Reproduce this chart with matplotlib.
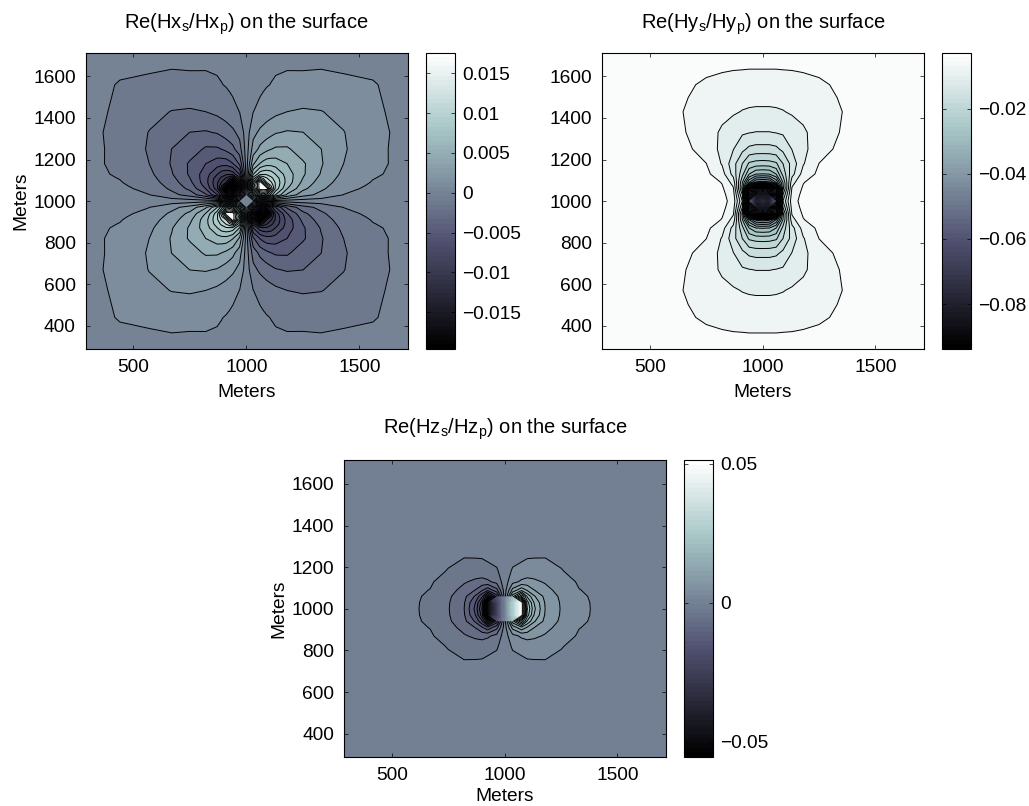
import numpy as np
import matplotlib
matplotlib.use("Agg")
import matplotlib.pyplot as plt
from matplotlib.cm import ScalarMappable
from matplotlib.colors import Normalize

plt.rcParams['font.family'] = ['Liberation Sans', 'DejaVu Sans']
plt.rcParams['mathtext.fontset'] = 'custom'
plt.rcParams['mathtext.rm'] = 'Liberation Sans'
plt.rcParams['mathtext.it'] = 'Liberation Sans'
plt.rcParams['mathtext.default'] = 'regular'
plt.rcParams['font.size'] = 13.8

W, H = 1029.0, 806.0

# distance from the centre (1000 m) of the rows and columns
centre = 1000.0
nodes = [0, 30, 60, 90, 130, 180, 250, 330, 430, 560, 714]
hx_nodes = [0, 30, 60, 75, 90, 110, 130, 180, 250, 330, 430, 560, 714]
hz_cols = [0, 35, 75, 100, 130, 180, 250, 330, 430, 560, 714]

# one quadrant of each field, in units of 1e-3, rows = y offset, cols = x offset
hx_quad = [
    [0, 0, 0, 0, 0, 0, 0, 0, 0, 0, 0, 0, 0],
    [0, 6, 11, 12, 11, 8.5, 6.7, 4.1, 2.35, 1.48, 0.6, 0.2, 0.074],
    [0, 11, 22, 23, 19, 12.5, 8.7, 5.6, 3.4, 2.1, 0.9, 0.38, 0.147],
    [0, 12, 23, 18.5, 14.5, 11.5, 9, 6, 3.7, 2.3, 1.07, 0.46, 0.18],
    [0, 11, 19, 14.5, 11.7, 10.6, 9, 6.3, 4, 2.5, 1.25, 0.55, 0.21],
    [0, 8.5, 12.5, 11.5, 10.6, 9.5, 8.7, 6.3, 4.3, 2.75, 1.4, 0.65, 0.25],
    [0, 6.7, 8.7, 9, 9, 8.7, 7.9, 6.2, 4.5, 3, 1.56, 0.75, 0.29],
    [0, 4.1, 5.6, 6, 6.3, 6.3, 6.2, 5.55, 4.5, 3.2, 1.85, 0.85, 0.32],
    [0, 2.35, 3.4, 3.7, 4, 4.3, 4.5, 4.5, 3.65, 3.1, 2, 0.8, 0.38],
    [0, 1.48, 2.1, 2.3, 2.5, 2.75, 3, 3.2, 3.1, 2.5, 1.9, 0.8, 0.42],
    [0, 0.6, 0.9, 1.07, 1.25, 1.4, 1.56, 1.85, 2, 1.9, 1.45, 0.72, 0.42],
    [0, 0.2, 0.38, 0.46, 0.55, 0.65, 0.75, 0.85, 0.8, 0.8, 0.72, 0.66, 0.36],
    [0, 0.074, 0.147, 0.18, 0.21, 0.25, 0.29, 0.32, 0.38, 0.42, 0.42, 0.36, 0.31],
]
hy_quad = [
    [-78, -82, -60, -18, -7, -4.8, -3.6, -3.2, -3, -3, -3],
    [-85, -85, -65, -21, -7.6, -5, -3.7, -3.3, -3.1, -3, -3],
    [-90, -80, -62, -25, -8.5, -5.4, -3.9, -3.4, -3.1, -3, -3],
    [-44, -43, -36, -24, -10, -6, -4.1, -3.5, -3.1, -3, -3],
    [-30.3, -30, -27, -20, -13, -7.6, -5.2, -3.8, -3.2, -3, -3],
    [-22.4, -22.2, -21.5, -18, -13.8, -9.1, -5.8, -4.4, -3.4, -3, -3],
    [-16, -16, -15.6, -14.2, -11.8, -9.7, -6.9, -5.5, -3.9, -3.1, -3],
    [-12, -12, -11.8, -11.5, -10.6, -9.4, -7.3, -6, -4.3, -3.3, -3],
    [-9.3, -9.3, -9.2, -9, -8.5, -7.9, -7.1, -6.2, -4.6, -3.4, -3],
    [-7, -7, -7, -6.95, -6.9, -6.7, -6.3, -5.5, -4.4, -3.4, -3],
    [-4.6, -4.6, -4.6, -4.55, -4.5, -4.4, -4.2, -3.9, -3.5, -3.1, -3],
]
hz_quad = [
    [0, 25, 56, 27, 17, 8.8, 5.1, 2.35, 1.2, 0.55, 0.28],
    [0, 25, 53, 25, 16, 8.5, 5, 2.3, 1.2, 0.55, 0.28],
    [0, 18, 30, 19, 13, 7.8, 4.7, 2.15, 1.18, 0.54, 0.28],
    [0, 10, 15, 12, 9, 6.4, 4.1, 1.85, 1.08, 0.53, 0.27],
    [0, 4.2, 6, 6.6, 6, 5, 3.1, 1.45, 0.96, 0.49, 0.26],
    [0, 2.2, 2.85, 3.3, 3.6, 3.3, 1.9, 1.15, 0.83, 0.43, 0.25],
    [0, 0.7, 1.2, 1.55, 1.6, 1.65, 1.35, 1.04, 0.65, 0.35, 0.22],
    [0, 0.35, 0.65, 0.85, 1, 1.1, 0.95, 0.8, 0.55, 0.3, 0.2],
    [0, 0.18, 0.33, 0.45, 0.55, 0.62, 0.6, 0.52, 0.4, 0.25, 0.16],
    [0, 0.09, 0.17, 0.22, 0.28, 0.32, 0.33, 0.3, 0.25, 0.18, 0.12],
    [0, 0.04, 0.08, 0.11, 0.14, 0.16, 0.17, 0.16, 0.14, 0.11, 0.09],
]

hx_range = (-0.0196, 0.0176)
hy_range = (-0.0938, -0.0028)
hz_range = (-0.0554, 0.0514)

hx_ticks = [-0.015, -0.01, -0.005, 0, 0.005, 0.01, 0.015]
hx_labels = ['\u22120.015', '\u22120.01', '\u22120.005', '0', '0.005', '0.01', '0.015']
hy_ticks = [-0.08, -0.06, -0.04, -0.02]
hy_labels = ['\u22120.08', '\u22120.06', '\u22120.04', '\u22120.02']
hz_ticks = [-0.05, 0, 0.05]
hz_labels = ['\u22120.05', '0', '0.05']

x_ticks = [500, 1000, 1500]
y_ticks = [400, 600, 800, 1000, 1200, 1400, 1600]


def unfold(quad, cols, rows, sx, sy):
    # mirror the quadrant to the full square, sx/sy = sign of the mirrored part
    q = np.array(quad, dtype=float) * 1e-3
    q = np.hstack([sx * q[:, :0:-1], q])
    q = np.vstack([sy * q[:0:-1, :], q])
    c = np.array(cols, dtype=float)
    r = np.array(rows, dtype=float)
    xs = centre + np.concatenate([-c[:0:-1], c])
    ys = centre + np.concatenate([-r[:0:-1], r])
    return xs, ys, q


def centred_levels(rng, step):
    k = np.arange(int(np.floor(rng[0] / step)), int(np.ceil(rng[1] / step)))
    lev = (k + 0.5) * step
    lev = lev[(lev > rng[0]) & (lev < rng[1])]
    return np.concatenate([[rng[0]], lev, [rng[1]]])


def panel(box, cbox, xs, ys, z, levels, rng, ticks, labels, title, no_lines=None,
          title_pad=17, xpad=6, ylabel=True):
    l, t, r, b = box
    ax = fig.add_axes([l / W, 1 - b / H, (r - l) / W, (b - t) / H])
    z = np.clip(z, rng[0] + 1e-7, rng[1] - 1e-7)
    ax.contourf(xs, ys, z, levels=levels, cmap='bone', vmin=rng[0], vmax=rng[1])
    zl = z
    if no_lines is not None:
        # the picture shows no lines right in the middle of this panel
        gx, gy = np.meshgrid(np.abs(xs - centre), np.abs(ys - centre))
        zl = np.ma.masked_where((gx < no_lines[0]) & (gy < no_lines[1]), z)
    ax.contour(xs, ys, zl, levels=levels[1:-1], colors='k', linewidths=0.7, linestyles='solid')
    ax.set_xlim(288, 1715)
    ax.set_ylim(288, 1715)
    ax.set_xticks(x_ticks)
    ax.set_yticks(y_ticks)
    ax.tick_params(direction='in', length=3, width=0.5, top=True, right=True, pad=7)
    ax.set_xlabel('Meters', labelpad=xpad)
    if ylabel:
        ax.set_ylabel('Meters', labelpad=3)
    ax.set_title(title, fontsize=14.5, pad=title_pad)

    l, t, r, b = cbox
    cax = fig.add_axes([l / W, 1 - b / H, (r - l) / W, (b - t) / H])
    sm = ScalarMappable(norm=Normalize(rng[0], rng[1]), cmap=plt.get_cmap('bone', 64))
    cb = fig.colorbar(sm, cax=cax)
    cb.set_ticks(ticks)
    cb.set_ticklabels(labels)
    cax.tick_params(direction='in', length=3, width=0.5, left=True, right=True, pad=5)
    return ax


fig = plt.figure(figsize=(10.29, 8.06), dpi=100)

xs, ys, z = unfold(hx_quad, hx_nodes, hx_nodes, -1, -1)
panel((85.5, 52.5, 408, 349), (426, 52.5, 455, 349), xs, ys, z,
      centred_levels(hx_range, 0.001233), hx_range, hx_ticks, hx_labels,
      'Re(Hx$_s$/Hx$_p$) on the surface')

xs, ys, z = unfold(hy_quad, nodes, nodes, 1, 1)
panel((602, 52.5, 924, 349), (942, 52.5, 971, 349), xs, ys, z,
      np.linspace(hy_range[0], hy_range[1], 31), hy_range, hy_ticks, hy_labels,
      'Re(Hy$_s$/Hy$_p$) on the surface', no_lines=(35, 10), ylabel=False)

xs, ys, z = unfold(hz_quad, hz_cols, nodes, -1, 1)
panel((344, 460, 666, 757), (684, 460, 713, 757), xs, ys, z,
      centred_levels(hz_range, 0.00356), hz_range, hz_ticks, hz_labels,
      'Re(Hz$_s$/Hz$_p$) on the surface', no_lines=(40, 40), title_pad=19, xpad=3)

fig.savefig('out.png', dpi=100)
